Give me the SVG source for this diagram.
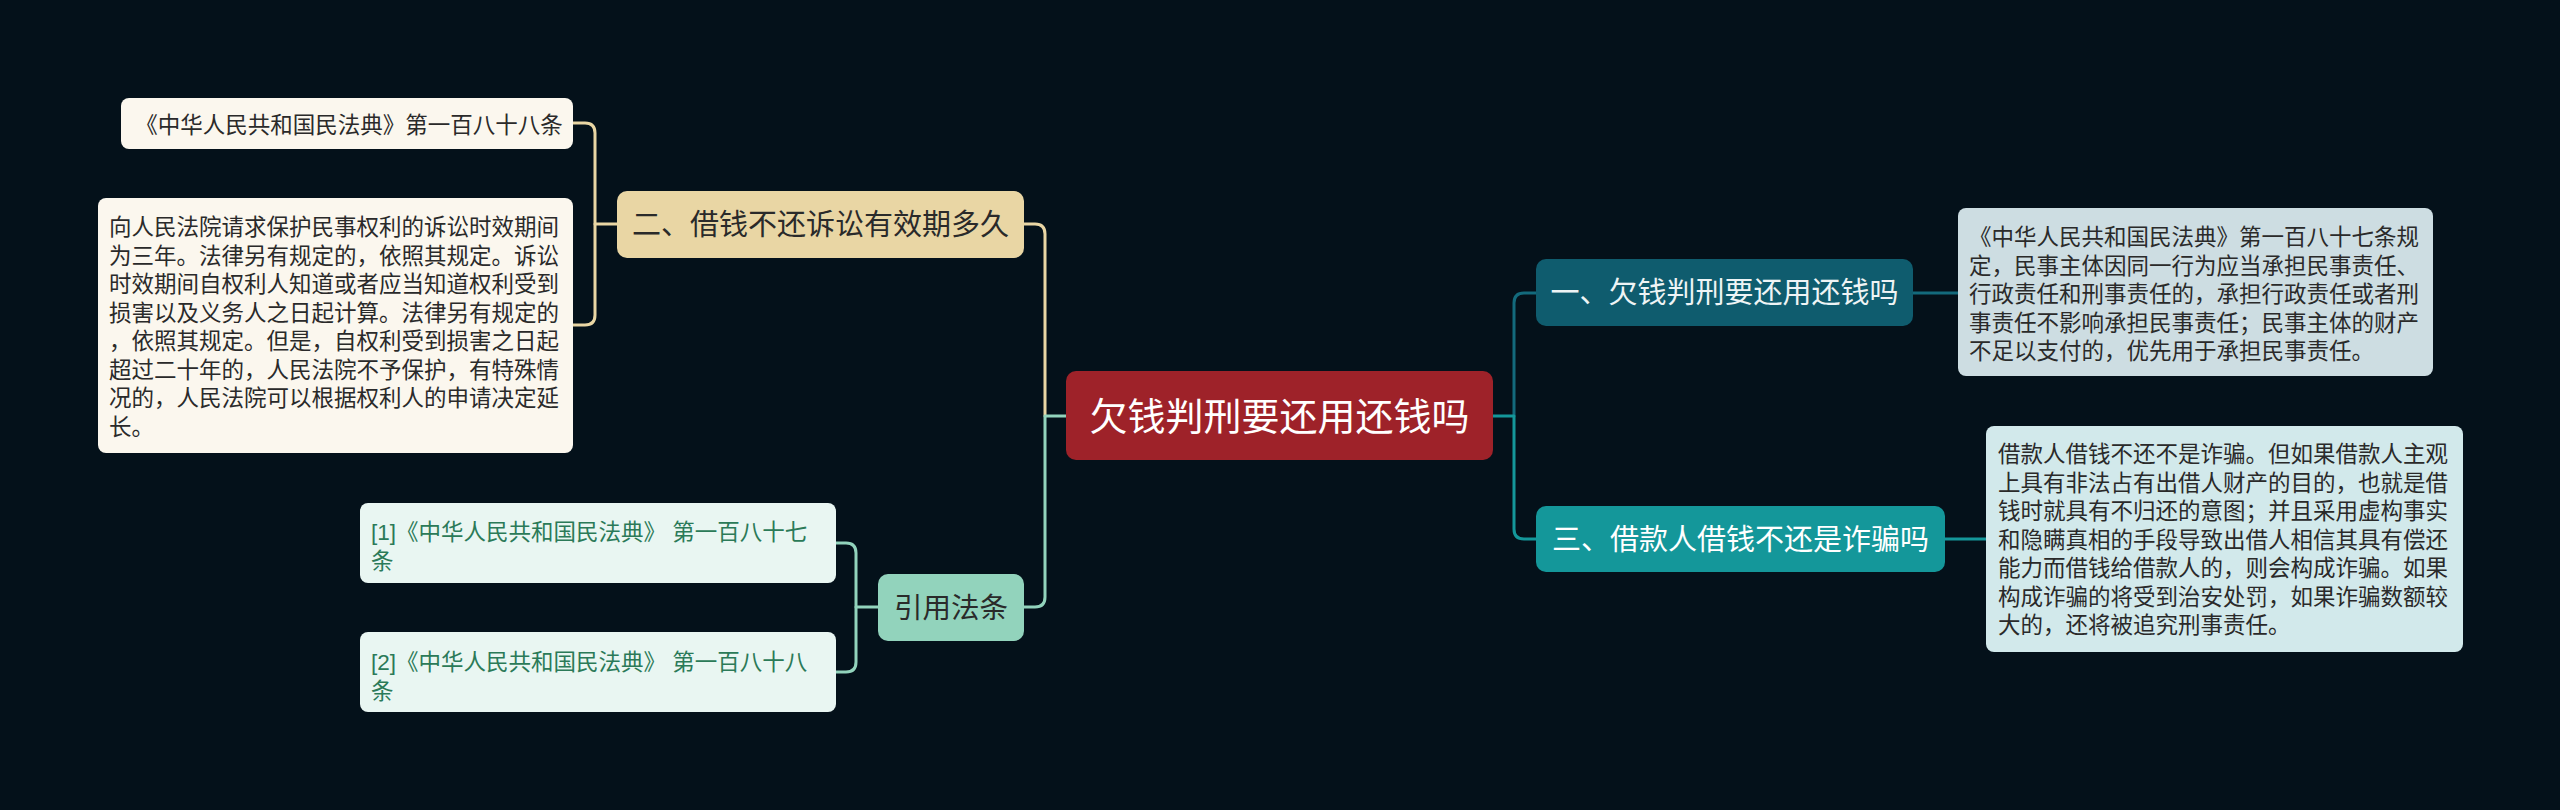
<svg xmlns="http://www.w3.org/2000/svg" width="2560" height="810" viewBox="0 0 2560 810">
<style>
text{font-family:"Liberation Sans","Noto Sans CJK SC",sans-serif;}
.c{fill:none;stroke-width:3;stroke-linecap:round;stroke-linejoin:round;}
.beige{stroke:#E9D6A4;}
.mint{stroke:#92D3BC;}
.dteal{stroke:#136A7C;}
.teal{stroke:#14979A;}
.body{font-size:22.5px;fill:#2a2a2a;}
.ref{font-size:22.5px;fill:#2B7A58;}
.mid{text-anchor:middle;}
</style>
<rect width="2560" height="810" fill="#04111A"/>
<g id="connectors">
<path class="c beige" d="M573,123 H585 Q595,123 595,133 V315 Q595,325 585,325 H573"/>
<path class="c beige" d="M595,224 H617"/>
<path class="c beige" d="M1024,224 H1035 Q1045,224 1045,234 V416"/>
<path class="c mint" d="M1066,416 H1045 V597 Q1045,607 1035,607 H1023"/>
<path class="c mint" d="M836,543 H846 Q856,543 856,553 V662 Q856,672 846,672 H836"/>
<path class="c mint" d="M856,607 H878"/>
<path class="c dteal" d="M1514,416 V303 Q1514,293 1524,293 H1536"/>
<path class="c teal" d="M1493,416 H1514 V529 Q1514,539 1524,539 H1536"/>
<path class="c dteal" d="M1913,293 H1958"/>
<path class="c teal" d="M1945,539 H1986"/>
</g>
<g id="root">
<rect x="1066" y="371" width="427" height="89" rx="10" fill="#9E2229"/>
<text x="1279.5" y="430" class="mid" font-size="38" fill="#FFFFFF">欠钱判刑要还用还钱吗</text>
</g>
<g id="n2">
<rect x="617" y="191" width="407" height="67" rx="10" fill="#E9D6A4"/>
<text x="820.5" y="235" class="mid" font-size="29" fill="#2a2a2a">二、借钱不还诉讼有效期多久</text>
</g>
<g id="n2a">
<rect x="121" y="98" width="452" height="51" rx="8" fill="#FBF7EE"/>
<text x="349" y="133" class="body mid">《中华人民共和国民法典》第一百八十八条</text>
</g>
<g id="n2b">
<rect x="98" y="198" width="475" height="255" rx="8" fill="#FBF7EE"/>
<text class="body">
<tspan x="109" y="235">向人民法院请求保护民事权利的诉讼时效期间</tspan>
<tspan x="109" y="263.5">为三年。法律另有规定的，依照其规定。诉讼</tspan>
<tspan x="109" y="292">时效期间自权利人知道或者应当知道权利受到</tspan>
<tspan x="109" y="320.5">损害以及义务人之日起计算。法律另有规定的</tspan>
<tspan x="109" y="349">，依照其规定。但是，自权利受到损害之日起</tspan>
<tspan x="109" y="377.5">超过二十年的，人民法院不予保护，有特殊情</tspan>
<tspan x="109" y="406">况的，人民法院可以根据权利人的申请决定延</tspan>
<tspan x="109" y="434.5">长。</tspan>
</text>
</g>
<g id="refs">
<rect x="878" y="574" width="146" height="67" rx="10" fill="#92D3BC"/>
<text x="951" y="618" class="mid" font-size="28.5" fill="#2a2a2a">引用法条</text>
</g>
<g id="ref1">
<rect x="360" y="503" width="476" height="80" rx="8" fill="#E9F6F2"/>
<text class="ref">
<tspan x="371" y="540">[1]《中华人民共和国民法典》 第一百八十七</tspan>
<tspan x="371" y="568.5">条</tspan>
</text>
</g>
<g id="ref2">
<rect x="360" y="632" width="476" height="80" rx="8" fill="#E9F6F2"/>
<text class="ref">
<tspan x="371" y="670">[2]《中华人民共和国民法典》 第一百八十八</tspan>
<tspan x="371" y="698.5">条</tspan>
</text>
</g>
<g id="n1">
<rect x="1536" y="259" width="377" height="67" rx="10" fill="#0F5C6E"/>
<text x="1724.5" y="303" class="mid" font-size="29" fill="#EEF4F5">一、欠钱判刑要还用还钱吗</text>
</g>
<g id="n1a">
<rect x="1958" y="208" width="475" height="168" rx="8" fill="#CDDDE2"/>
<text class="body">
<tspan x="1969" y="245">《中华人民共和国民法典》第一百八十七条规</tspan>
<tspan x="1969" y="273.5">定，民事主体因同一行为应当承担民事责任、</tspan>
<tspan x="1969" y="302">行政责任和刑事责任的，承担行政责任或者刑</tspan>
<tspan x="1969" y="330.5">事责任不影响承担民事责任；民事主体的财产</tspan>
<tspan x="1969" y="359">不足以支付的，优先用于承担民事责任。</tspan>
</text>
</g>
<g id="n3">
<rect x="1536" y="506" width="409" height="66" rx="10" fill="#14979A"/>
<text x="1740.5" y="550" class="mid" font-size="29" fill="#FFFFFF">三、借款人借钱不还是诈骗吗</text>
</g>
<g id="n3a">
<rect x="1986" y="426" width="477" height="226" rx="8" fill="#D2E9EB"/>
<text class="body">
<tspan x="1998" y="462">借款人借钱不还不是诈骗。但如果借款人主观</tspan>
<tspan x="1998" y="490.5">上具有非法占有出借人财产的目的，也就是借</tspan>
<tspan x="1998" y="519">钱时就具有不归还的意图；并且采用虚构事实</tspan>
<tspan x="1998" y="547.5">和隐瞒真相的手段导致出借人相信其具有偿还</tspan>
<tspan x="1998" y="576">能力而借钱给借款人的，则会构成诈骗。如果</tspan>
<tspan x="1998" y="604.5">构成诈骗的将受到治安处罚，如果诈骗数额较</tspan>
<tspan x="1998" y="633">大的，还将被追究刑事责任。</tspan>
</text>
</g>
</svg>
